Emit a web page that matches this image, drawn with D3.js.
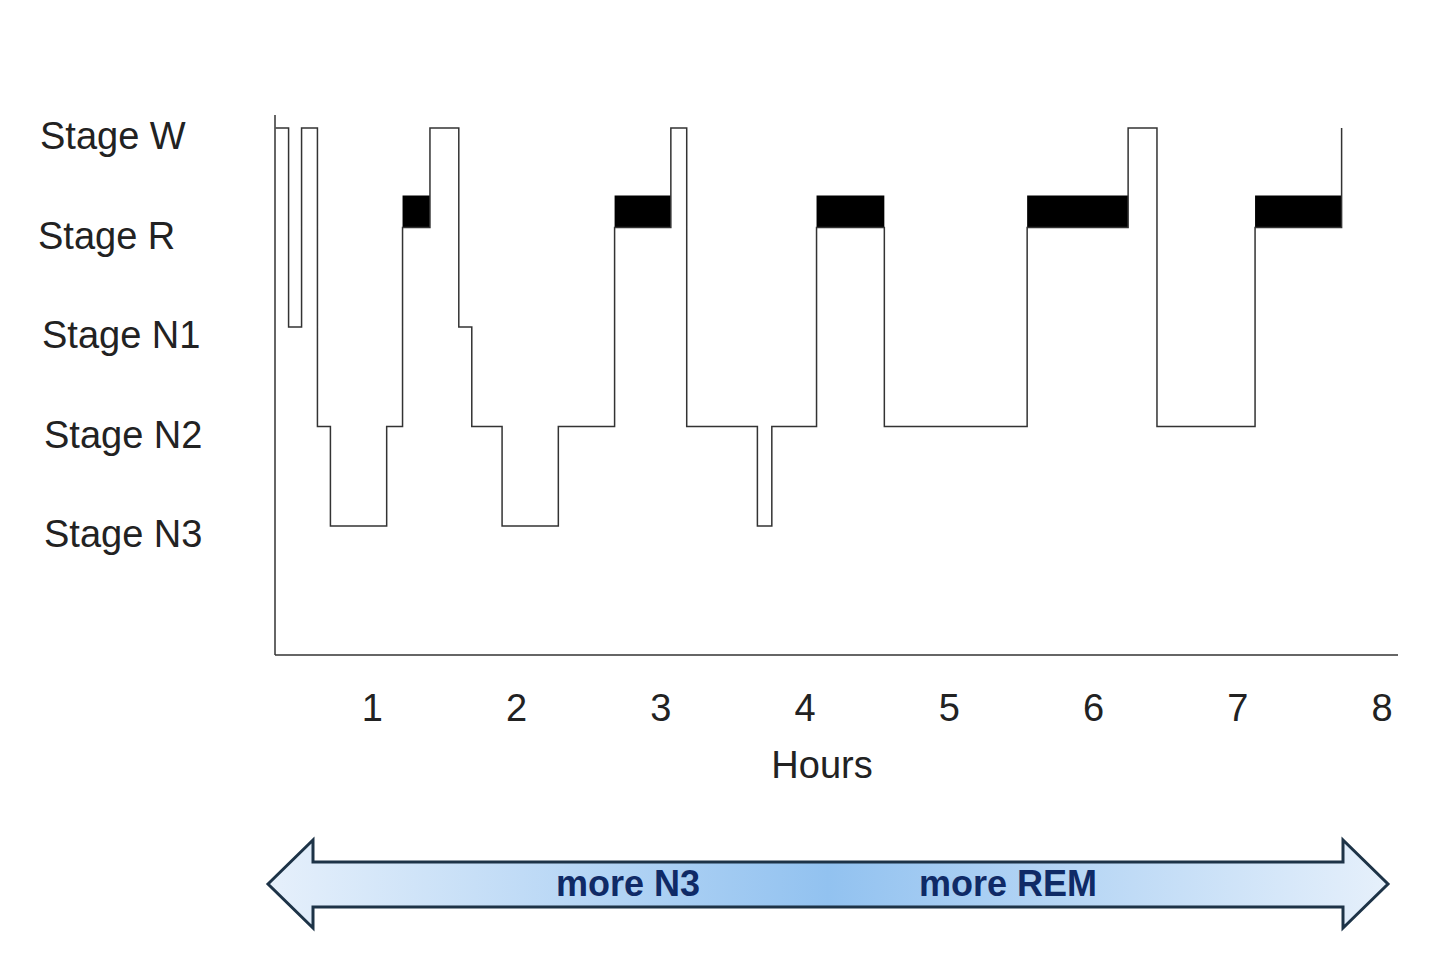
<html>
<head>
<script src="https://cdn.jsdelivr.net/npm/d3@7"></script>
<style>
  body { margin: 0; background: #fff; }
  text { font-family: "Liberation Sans", Arial, sans-serif; }
</style>
</head>
<body>
<svg id="chart" width="1440" height="967"></svg>
<script>
// stage names, top to bottom
var stages = ["Stage W", "Stage R", "Stage N1", "Stage N2", "Stage N3"];
// hypnogram: start hour of each segment and its stage
var startHours = [0.33, 0.42, 0.51, 0.62, 0.71, 1.10, 1.21, 1.40, 1.60, 1.69, 1.90, 2.29, 2.68, 3.07, 3.18, 3.67, 3.77, 4.08, 4.55, 5.54, 6.24, 6.44, 7.12, 7.72];
var segStages = ["Stage W", "Stage N1", "Stage W", "Stage N2", "Stage N3", "Stage N2", "Stage R", "Stage W", "Stage N1", "Stage N2", "Stage N3", "Stage N2", "Stage R", "Stage W", "Stage N2", "Stage N3", "Stage N2", "Stage R", "Stage N2", "Stage R", "Stage W", "Stage N2", "Stage R", "Stage W"];
var hourTicks = [1, 2, 3, 4, 5, 6, 7, 8];

var svg = d3.select("#chart");
var x = d3.scaleLinear().domain([0, 8]).range([228, 1382]);
var y = d3.scaleLinear().domain([0, 4]).range([128, 526]);
function yStage(s) { return y(stages.indexOf(s)); }

var pts = startHours.map(function(h, i) { return [h, segStages[i]]; });

// REM bars
pts.forEach(function(p, i) {
  if (p[1] == "Stage R" && i < pts.length - 1) {
    svg.append("rect")
      .attr("x", x(p[0])).attr("width", x(pts[i + 1][0]) - x(p[0]))
      .attr("y", yStage("Stage R") - 32).attr("height", 32)
      .attr("fill", "#000");
  }
});

var line = d3.line()
  .x(function(d) { return x(d[0]); })
  .y(function(d) { return yStage(d[1]); })
  .curve(d3.curveStepAfter);
svg.append("path").datum(pts).attr("d", line)
  .attr("fill", "none").attr("stroke", "#333").attr("stroke-width", 1.5);

// axes
svg.append("line").attr("x1", 275).attr("x2", 275).attr("y1", 115).attr("y2", 655).attr("stroke", "#333").attr("stroke-width", 1.5);
svg.append("line").attr("x1", 275).attr("x2", 1398).attr("y1", 655).attr("y2", 655).attr("stroke", "#333").attr("stroke-width", 1.5);

svg.selectAll(".ylab").data(stages).enter().append("text")
  .attr("x", function(d, i) { return [40, 38, 42, 44, 44][i]; })
  .attr("y", function(d) { return yStage(d) + 21; })
  .attr("font-size", 38).attr("fill", "#222").text(function(d) { return d; });

svg.selectAll(".xlab").data(hourTicks).enter().append("text")
  .attr("x", function(d) { return x(d); }).attr("y", 721)
  .attr("text-anchor", "middle").attr("font-size", 38).attr("fill", "#222")
  .text(function(d) { return d; });
svg.append("text").attr("x", 822).attr("y", 778).attr("text-anchor", "middle")
  .attr("font-size", 38).attr("fill", "#222").text("Hours");

// double arrow
var grad = svg.append("defs").append("linearGradient").attr("id", "g");
[[0, "#e6f0fb"], [0.5, "#92c2f0"], [1, "#e6f0fb"]].forEach(function(s) {
  grad.append("stop").attr("offset", s[0]).attr("stop-color", s[1]);
});
var arrow = [[268, 884], [313, 840], [313, 862], [1343, 862], [1343, 840], [1388, 884],
             [1343, 928], [1343, 907], [313, 907], [313, 928]];
svg.append("polygon").attr("points", arrow.join(" "))
  .attr("fill", "url(#g)").attr("stroke", "#1d3347").attr("stroke-width", 3);
svg.append("text").attr("x", 628).attr("y", 896).attr("text-anchor", "middle")
  .attr("font-size", 36).attr("font-weight", "bold").attr("fill", "#0f2a66").text("more N3");
svg.append("text").attr("x", 1008).attr("y", 896).attr("text-anchor", "middle")
  .attr("font-size", 36).attr("font-weight", "bold").attr("fill", "#0f2a66").text("more REM");
</script>
</body>
</html>
